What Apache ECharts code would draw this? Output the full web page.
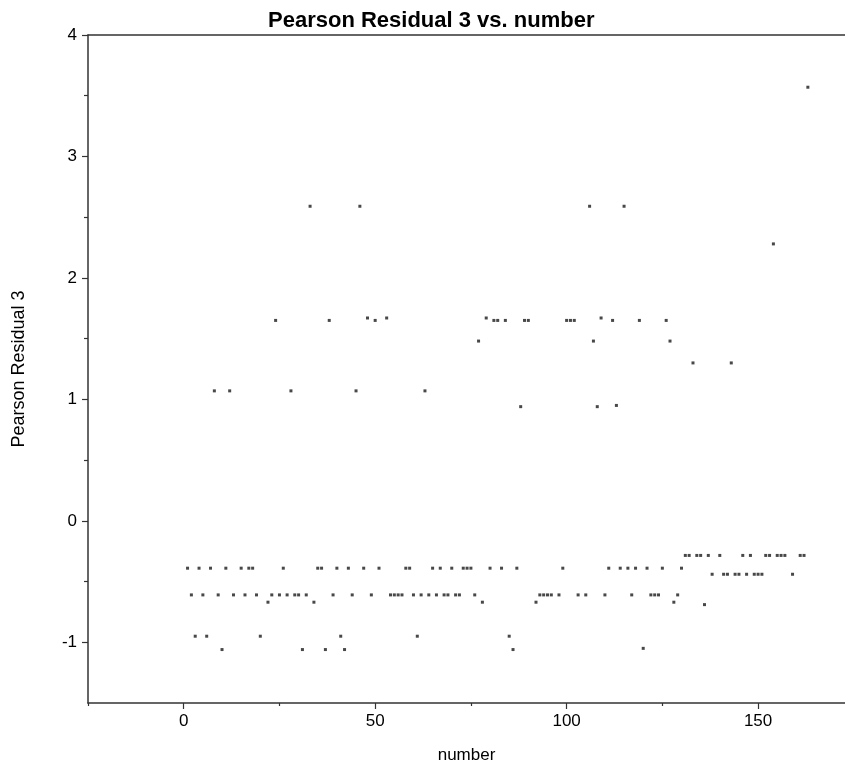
<!DOCTYPE html>
<html>
<head>
<meta charset="utf-8">
<script src="https://cdn.jsdelivr.net/npm/echarts@6/dist/echarts.min.js"></script>
<style>
  html, body { margin: 0; padding: 0; background: #ffffff; }
  #chart { width: 845px; height: 769px; }
</style>
</head>
<body>
<div id="chart"></div>
<script>
// Observation number and its Pearson residual
const caseNumber = [
  1, 2, 3, 4, 5, 6, 7, 8, 9, 10, 11, 12, 13, 15, 16, 17, 18, 19, 20, 22,
  23, 24, 25, 26, 27, 28, 29, 30, 31, 32, 33, 34, 35, 36, 37, 38, 39, 40, 41, 42,
  43, 44, 45, 46, 47, 48, 49, 50, 51, 53, 54, 55, 56, 57, 58, 59, 60, 61, 62, 63,
  64, 65, 66, 67, 68, 69, 70, 71, 72, 73, 74, 75, 76, 77, 78, 79, 80, 81, 82, 83,
  84, 85, 86, 87, 88, 89, 90, 92, 93, 94, 95, 96, 98, 99, 100, 101, 102, 103, 105, 106,
  107, 108, 109, 110, 111, 112, 113, 114, 115, 116, 117, 118, 119, 120, 121, 122, 123, 124, 125, 126,
  127, 128, 129, 130, 131, 132, 133, 134, 135, 136, 137, 138, 140, 141, 142, 143, 144, 145, 146, 147,
  148, 149, 150, 151, 152, 153, 154, 155, 156, 157, 159, 161, 162, 163
];
const residual = [
  -0.39, -0.61, -0.95, -0.39, -0.61, -0.95, -0.39, 1.07, -0.61, -1.06, -0.39, 1.07, -0.61, -0.39, -0.61, -0.39, -0.39, -0.61, -0.95, -0.67,
  -0.61, 1.65, -0.61, -0.39, -0.61, 1.07, -0.61, -0.61, -1.06, -0.61, 2.59, -0.67, -0.39, -0.39, -1.06, 1.65, -0.61, -0.39, -0.95, -1.06,
  -0.39, -0.61, 1.07, 2.59, -0.39, 1.67, -0.61, 1.65, -0.39, 1.67, -0.61, -0.61, -0.61, -0.61, -0.39, -0.39, -0.61, -0.95, -0.61, 1.07,
  -0.61, -0.39, -0.61, -0.39, -0.61, -0.61, -0.39, -0.61, -0.61, -0.39, -0.39, -0.39, -0.61, 1.48, -0.67, 1.67, -0.39, 1.65, 1.65, -0.39,
  1.65, -0.95, -1.06, -0.39, 0.94, 1.65, 1.65, -0.67, -0.61, -0.61, -0.61, -0.61, -0.61, -0.39, 1.65, 1.65, 1.65, -0.61, -0.61, 2.59,
  1.48, 0.94, 1.67, -0.61, -0.39, 1.65, 0.95, -0.39, 2.59, -0.39, -0.61, -0.39, 1.65, -1.05, -0.39, -0.61, -0.61, -0.61, -0.39, 1.65,
  1.48, -0.67, -0.61, -0.39, -0.285, -0.285, 1.30, -0.285, -0.285, -0.69, -0.285, -0.44, -0.285, -0.44, -0.44, 1.30, -0.44, -0.44, -0.285, -0.44,
  -0.285, -0.44, -0.44, -0.44, -0.285, -0.285, 2.28, -0.285, -0.285, -0.285, -0.44, -0.285, -0.285, 3.57
];

// Axis ticks and labels
const xLabelTicks = [0, 50, 100, 150];
const xMinorTicks = [-25, 25, 75, 125];
const yLabelTicks = [-1, 0, 1, 2, 3, 4];
const yMinorTicks = [-0.5, 0.5, 1.5, 2.5, 3.5];

const FONT = '"Liberation Sans", Arial, sans-serif';
const AXIS_COLOR = '#333333';
const X_MIN = -25, X_MAX = 172.7, Y_MIN = -1.5, Y_MAX = 4;

const points = caseNumber.map((n, i) => [n, residual[i]]);

const chart = echarts.init(document.getElementById('chart'), null, { renderer: 'canvas' });

const baseX = {
  type: 'value', min: X_MIN, max: X_MAX, gridIndex: 0,
  splitLine: { show: false }
};
const baseY = {
  type: 'value', min: Y_MIN, max: Y_MAX, gridIndex: 0,
  splitLine: { show: false }
};

chart.setOption({
  animation: false,
  backgroundColor: '#ffffff',
  title: {
    text: 'Pearson Residual 3 vs. number',
    left: 263, top: 5,
    textStyle: { fontFamily: FONT, fontSize: 22, fontWeight: 'bold', color: '#000000' }
  },
  grid: { left: 88, right: 0, top: 35, bottom: 66, containLabel: false },
  xAxis: [
    Object.assign({}, baseX, {
      position: 'bottom',
      name: 'number', nameLocation: 'middle', nameGap: 44,
      nameTextStyle: { fontFamily: FONT, fontSize: 17, color: '#000000' },
      axisLine: { show: true, onZero: false, lineStyle: { color: AXIS_COLOR, width: 1.5 } },
      axisTick: { show: true, customValues: xLabelTicks, length: 6, lineStyle: { color: AXIS_COLOR, width: 1.2 } },
      axisLabel: { show: true, customValues: xLabelTicks, margin: 10, fontFamily: FONT, fontSize: 17, color: '#000000' }
    }),
    Object.assign({}, baseX, {
      position: 'bottom',
      axisLine: { show: false, onZero: false },
      axisTick: { show: true, customValues: xMinorTicks, length: 3, lineStyle: { color: AXIS_COLOR, width: 1.2 } },
      axisLabel: { show: false }
    }),
    Object.assign({}, baseX, {
      position: 'top',
      axisLine: { show: true, onZero: false, lineStyle: { color: AXIS_COLOR, width: 1.5 } },
      axisTick: { show: false },
      axisLabel: { show: false }
    })
  ],
  yAxis: [
    Object.assign({}, baseY, {
      position: 'left',
      name: 'Pearson Residual 3', nameLocation: 'middle', nameGap: 60, nameRotate: 90,
      nameTextStyle: { fontFamily: FONT, fontSize: 18, color: '#000000' },
      axisLine: { show: true, onZero: false, lineStyle: { color: AXIS_COLOR, width: 1.5 } },
      axisTick: { show: true, customValues: yLabelTicks, length: 6, lineStyle: { color: AXIS_COLOR, width: 1.2 } },
      axisLabel: { show: true, customValues: yLabelTicks, margin: 11, fontFamily: FONT, fontSize: 17, color: '#000000' }
    }),
    Object.assign({}, baseY, {
      position: 'left',
      axisLine: { show: false, onZero: false },
      axisTick: { show: true, customValues: yMinorTicks, length: 4, lineStyle: { color: AXIS_COLOR, width: 1.2 } },
      axisLabel: { show: false }
    })
  ],
  series: [{
    type: 'scatter',
    xAxisIndex: 0, yAxisIndex: 0,
    data: points,
    symbol: 'rect',
    symbolSize: 3,
    itemStyle: { color: '#1a1a1a' },
    silent: true
  }]
});
</script>
</body>
</html>
